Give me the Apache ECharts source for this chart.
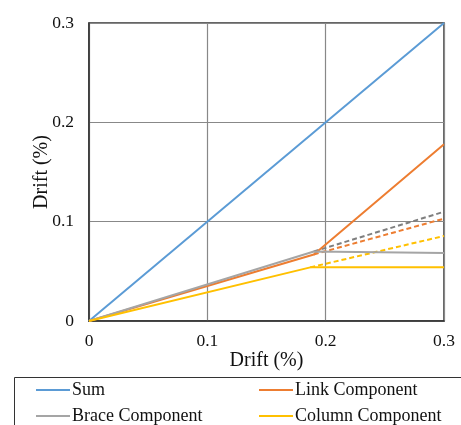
<!DOCTYPE html>
<html><head><meta charset="utf-8">
<script src="https://cdn.jsdelivr.net/npm/echarts@6/dist/echarts.min.js"></script>
<style>html,body{margin:0;padding:0;background:#fff}#c{width:461px;height:425px}</style>
</head><body><div id="c"></div>
<script>
var sumX = [0, 0.3];
var sumY = [0, 0.3];
var linkX = [0, 0.19, 0.3];
var linkY = [0, 0.067, 0.178];
var linkDashX = [0.19, 0.3];
var linkDashY = [0.067, 0.103];
var braceX = [0, 0.19, 0.3];
var braceY = [0, 0.07, 0.0685];
var braceDashX = [0.19, 0.3];
var braceDashY = [0.07, 0.110];
var colX = [0, 0.187, 0.3];
var colY = [0, 0.054, 0.054];
var colDashX = [0.187, 0.3];
var colDashY = [0.054, 0.0856];
var xTicks = [0, 0.1, 0.2, 0.3];
var yTicks = [0, 0.1, 0.2, 0.3];
var legendNames = ['Sum', 'Link Component', 'Brace Component', 'Column Component'];

function pts(xs, ys) { return xs.map(function (x, i) { return [x, ys[i]]; }); }
var font = 'Liberation Serif';
function fmt(v) { return v === 0 ? '0' : String(+v.toFixed(1)); }

function line(name, xs, ys, color, dashed, w) {
  return {
    name: name, type: 'line', data: pts(xs, ys), symbol: 'none', silent: true,
    lineStyle: { color: color, width: w || 2, type: dashed ? [5, 3] : 'solid' },
    itemStyle: { color: color }, z: dashed ? 3 : 4
  };
}
var colors = { sum: '#5B9BD5', link: '#ED7D31', brace: '#A5A5A5', braceDash: '#7F7F7F', col: '#FFC000' };
var lineIcon = 'path://M0,0 L34,0 L34,2 L0,2 Z';
function leg(name, left, top) {
  return {
    data: [name], left: left, top: top, icon: lineIcon, itemWidth: 34, itemHeight: 2, itemGap: 0,
    textStyle: { fontFamily: font, fontSize: 18, color: '#111', padding: [0, 0, 0, -3] },
    selectedMode: false, padding: 0
  };
}
var chart = echarts.init(document.getElementById('c'));
chart.setOption({
  animation: false,
  grid: { left: 89, right: 17, top: 23, bottom: 104, show: true, borderColor: '#333', borderWidth: 1.5 },
  xAxis: {
    type: 'value', min: xTicks[0], max: xTicks[xTicks.length - 1], interval: 0.1,
    name: 'Drift (%)', nameLocation: 'middle', nameGap: 30, nameMoveOverlap: false,
    nameTextStyle: { fontFamily: font, fontSize: 20, color: '#111' },
    axisLine: { show: true, lineStyle: { color: '#333', width: 1.5 } }, axisTick: { show: false },
    axisLabel: { fontFamily: font, fontSize: 17.5, color: '#111', margin: 11, formatter: fmt },
    splitLine: { show: true, lineStyle: { color: '#888', width: 1.2 } }
  },
  yAxis: {
    type: 'value', min: yTicks[0], max: yTicks[yTicks.length - 1], interval: 0.1,
    name: 'Drift (%)', nameLocation: 'middle', nameGap: 37, nameMoveOverlap: false,
    nameTextStyle: { fontFamily: font, fontSize: 20, color: '#111' },
    axisLine: { show: true, lineStyle: { color: '#333', width: 1.5 } }, axisTick: { show: false },
    axisLabel: { fontFamily: font, fontSize: 17.5, color: '#111', margin: 15, formatter: fmt },
    splitLine: { show: true, lineStyle: { color: '#888', width: 1.2 } }
  },
  legend: [
    leg(legendNames[0], 36, 381),
    leg(legendNames[1], 259, 381),
    leg(legendNames[2], 36, 407),
    leg(legendNames[3], 259, 407)
  ],
  graphic: [{ type: 'rect', shape: { x: 14.5, y: 377.5, width: 460, height: 60 }, style: { fill: 'none', stroke: '#333', lineWidth: 1 }, silent: true }],
  series: [
    line('Sum', sumX, sumY, colors.sum),
    line('Link Component', linkX, linkY, colors.link),
    line('Brace Component', braceX, braceY, colors.brace),
    line('Column Component', colX, colY, colors.col),
    line('Link dashed', linkDashX, linkDashY, colors.link, true),
    line('Brace dashed', braceDashX, braceDashY, colors.braceDash, true),
    line('Column dashed', colDashX, colDashY, colors.col, true)
  ]
});
</script></body></html>
